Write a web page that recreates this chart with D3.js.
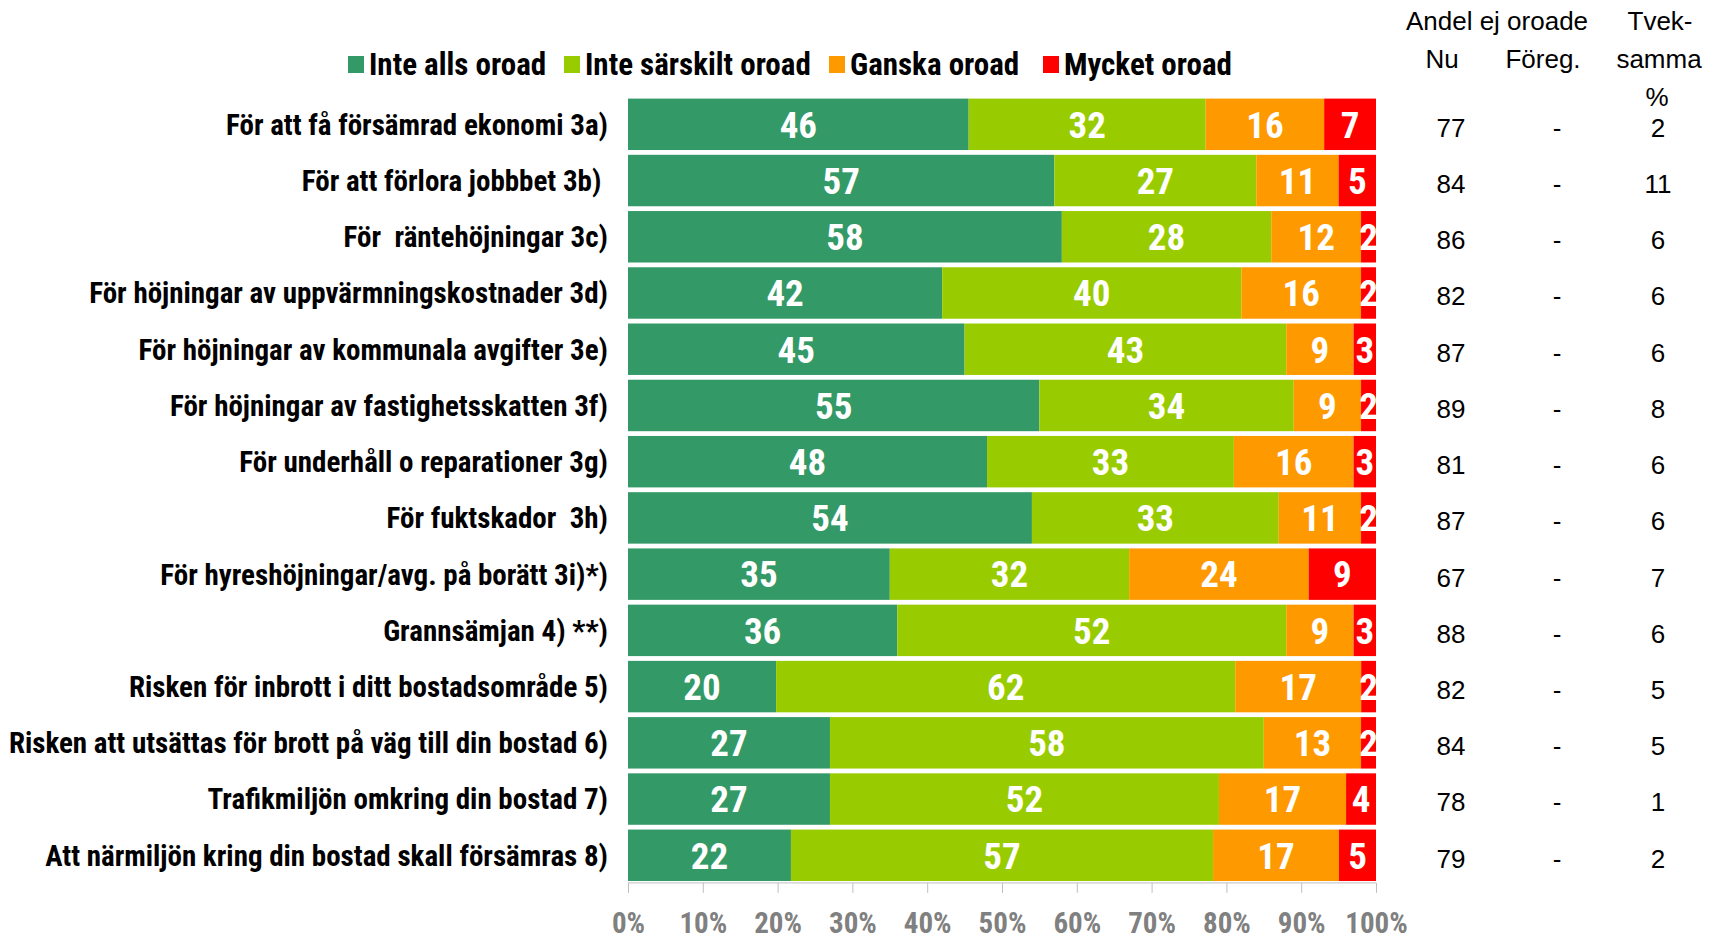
<!DOCTYPE html>
<html>
<head>
<meta charset="utf-8">
<script src="https://cdn.jsdelivr.net/npm/d3@7"></script>
<style>
  body { margin: 0; background: #fff; }
  svg { display: block; }
</style>
</head>
<body>
<svg id="chart" width="1718" height="935"></svg>
<script>
/* ----------  DATA  ---------- */
const categories = [
  'För att få försämrad ekonomi 3a)',
  'För att förlora jobbbet 3b) ',
  'För  räntehöjningar 3c)',
  'För höjningar av uppvärmningskostnader 3d)',
  'För höjningar av kommunala avgifter 3e)',
  'För höjningar av fastighetsskatten 3f)',
  'För underhåll o reparationer 3g)',
  'För fuktskador  3h)',
  'För hyreshöjningar/avg. på borätt 3i)*)',
  'Grannsämjan 4) **)',
  'Risken för inbrott i ditt bostadsområde 5)',
  'Risken att utsättas för brott på väg till din bostad 6)',
  'Trafikmiljön omkring din bostad 7)',
  'Att närmiljön kring din bostad skall försämras 8)'
]
const seriesNames = ['Inte alls oroad', 'Inte särskilt oroad', 'Ganska oroad', 'Mycket oroad']
const seriesColors = ['#339966', '#99CC00', '#FF9900', '#FF0000']

const inteAlls = [46, 57, 58, 42, 45, 55, 48, 54, 35, 36, 20, 27, 27, 22]
const inteSarskilt = [32, 27, 28, 40, 43, 34, 33, 33, 32, 52, 62, 58, 52, 57]
const ganska = [16, 11, 12, 16, 9, 9, 16, 11, 24, 9, 17, 13, 17, 17]
const mycket = [7, 5, 2, 2, 3, 2, 3, 2, 9, 3, 2, 2, 4, 5]

const andelNu = [77, 84, 86, 82, 87, 89, 81, 87, 67, 88, 82, 84, 78, 79]
const andelForeg = ['-', '-', '-', '-', '-', '-', '-', '-', '-', '-', '-', '-', '-', '-']
const tveksamma = [2, 11, 6, 6, 6, 8, 6, 6, 7, 6, 5, 5, 1, 2]

const xTicks = [0, 0.1, 0.2, 0.3, 0.4, 0.5, 0.6, 0.7, 0.8, 0.9, 1]

/* ----------  SETUP  ---------- */
const NARROW = '"Liberation Sans Narrow", "Arial Narrow", "Roboto Condensed", sans-serif'
const REGULAR = '"Liberation Sans", Arial, sans-serif'

const svg = d3.select('#chart')

const x = d3.scaleLinear().domain([0, 1]).range([628, 1376])
const y = d3.scaleBand()
  .domain(categories)
  .range([96.2, 883.4])
  .paddingInner(0.085)
  .paddingOuter(0.0425)

// rows -> stacked shares (100 % stacked, normalised per row)
const rows = categories.map((c, i) => {
  const vals = [inteAlls[i], inteSarskilt[i], ganska[i], mycket[i]]
  const total = d3.sum(vals)
  let acc = 0
  return {
    cat: c,
    segs: vals.map((v, k) => {
      const s = { k, v, x0: acc / total, x1: (acc + v) / total }
      acc += v
      return s
    })
  }
})

/* ----------  BARS  ---------- */
const rowG = svg.append('g').selectAll('g')
  .data(rows)
  .join('g')
  .attr('transform', d => `translate(0, ${y(d.cat)})`)

rowG.selectAll('rect')
  .data(d => d.segs)
  .join('rect')
  .attr('x', d => x(d.x0))
  .attr('width', d => x(d.x1) - x(d.x0))
  .attr('y', 0)
  .attr('height', y.bandwidth())
  .attr('fill', d => seriesColors[d.k])

// value labels (clipped to plot area like the original)
svg.append('clipPath').attr('id', 'plotClip')
  .append('rect')
  .attr('x', x(0)).attr('y', 0)
  .attr('width', x(1) - x(0)).attr('height', 935)

rowG.append('g')
  .attr('clip-path', 'url(#plotClip)')
  .selectAll('text')
  .data(d => d.segs)
  .join('text')
  .attr('x', d => (x(d.x0) + x(d.x1)) / 2)
  .attr('y', y.bandwidth() / 2)
  .attr('dy', '0.36em')
  .attr('text-anchor', 'middle')
  .style('font-family', NARROW)
  .style('font-weight', 700)
  .style('font-size', '37px')
  .style('fill', '#fff')
  .text(d => d.v)

/* ----------  CATEGORY LABELS  ---------- */
svg.append('g').selectAll('text')
  .data(categories)
  .join('text')
  .attr('x', 608)
  .attr('y', d => y(d) + y.bandwidth() / 2)
  .attr('dy', '0.36em')
  .attr('text-anchor', 'end')
  .style('white-space', 'pre')
  .style('font-family', NARROW)
  .style('font-weight', 700)
  .style('font-size', '29px')
  .style('fill', '#000')
  .text(d => d)

/* ----------  X AXIS  ---------- */
const axisY = y.range()[1] - 0.5
const xAxis = svg.append('g')
  .attr('transform', `translate(0, ${axisY})`)
  .call(d3.axisBottom(x).tickValues(xTicks).tickFormat(d3.format('.0%')).tickSize(10).tickPadding(20))

xAxis.select('.domain').attr('stroke', '#bfbfbf').attr('d', `M${x(0)},0H${x(1)}`)
xAxis.selectAll('.tick line').attr('stroke', '#bfbfbf')
xAxis.selectAll('.tick text')
  .style('font-family', NARROW)
  .style('font-weight', 700)
  .style('font-size', '29px')
  .style('fill', '#808080')

/* ----------  LEGEND  ---------- */
const legendX = [348, 564, 829, 1043]
const legend = svg.append('g').selectAll('g')
  .data(seriesNames)
  .join('g')
  .attr('transform', (d, i) => `translate(${legendX[i]}, 64)`)

legend.append('rect')
  .attr('x', 0).attr('y', -8)
  .attr('width', 16).attr('height', 17)
  .attr('fill', (d, i) => seriesColors[i])

legend.append('text')
  .attr('x', 21)
  .attr('dy', '0.36em')
  .style('font-family', NARROW)
  .style('font-weight', 700)
  .style('font-size', '31px')
  .text(d => d)

/* ----------  RIGHT TABLE  ---------- */
const colNu = 1451, colForeg = 1557, colTvek = 1658

const headers = [
  { t: 'Andel ej oroade', x: 1497, y: 30 },
  { t: 'Tvek-', x: 1660, y: 30 },
  { t: 'Nu', x: 1442, y: 68 },
  { t: 'Föreg.', x: 1543, y: 68 },
  { t: 'samma', x: 1659, y: 68 },
  { t: '%', x: 1657, y: 106 }
]

svg.append('g').selectAll('text')
  .data(headers)
  .join('text')
  .attr('x', d => d.x)
  .attr('y', d => d.y)
  .attr('text-anchor', 'middle')
  .style('font-family', REGULAR)
  .style('font-size', '26px')
  .style('fill', '#000')
  .text(d => d.t)

const tableCols = [
  { vals: andelNu, x: colNu },
  { vals: andelForeg, x: colForeg },
  { vals: tveksamma, x: colTvek }
]

tableCols.forEach(col => {
  svg.append('g').selectAll('text')
    .data(categories)
    .join('text')
    .attr('x', col.x)
    .attr('y', d => y(d) + y.bandwidth() / 2 + 3)
    .attr('dy', '0.36em')
    .attr('text-anchor', 'middle')
    .style('font-family', REGULAR)
    .style('font-size', '26px')
    .style('fill', '#000')
    .text((d, i) => col.vals[i])
})
</script>
</body>
</html>
